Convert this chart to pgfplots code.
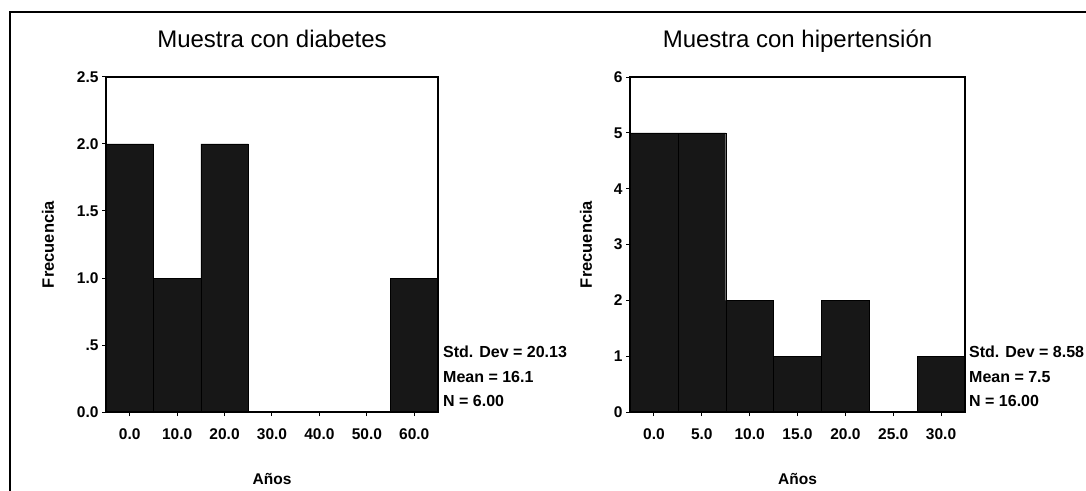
\documentclass[border=0pt]{standalone}
\usepackage{fontspec}
\setmainfont{Liberation Sans}
\usepackage{pgfplots}
\pgfplotsset{compat=1.18}
\begin{document}
\begin{tikzpicture}[x=1pt,y=1pt]
\useasboundingbox (0,0) rectangle (1086,490);
\clip (0,0) rectangle (1086,490);
\fill[white] (0,0) rectangle (1086,490);
\draw[line width=2pt] (10,-20) -- (10,478) -- (1100,478);
\pgfplotsset{
 histo/.style={
   scale only axis,
   axis on top,
   axis line style={line width=1.2pt},
   tick align=outside, tick pos=left, major tick length=4pt,
   tick style={line width=1pt, black},
   ticklabel style={font=\fontsize{15.5}{15.5}\selectfont\bfseries},
   xticklabel style={yshift=-9pt},
   ymin=0,
   title style={font=\fontsize{24}{24}\selectfont, at={(axis description cs:0.5,1.0687)}, anchor=base},
   xlabel style={font=\fontsize{15.5}{15.5}\selectfont\bfseries, at={(axis description cs:0.5,-0.2179)}, anchor=base},
   ylabel style={font=\fontsize{16.5}{16.5}\selectfont\bfseries, anchor=center},
 }
}
\begin{scope}[shift={(106pt,78pt)}]
\begin{axis}[histo, at={(0pt,0pt)}, anchor=south west, width=332pt, height=335pt,
  xmin=-5, xmax=65, ymax=2.5,
  xtick={0,10,20,30,40,50,60},
  xticklabels={0.0,10.0,20.0,30.0,40.0,50.0,60.0},
  ytick={0,0.5,1,1.5,2,2.5},
  yticklabels={0.0,.5,1.0,1.5,2.0,2.5},
  title={Muestra con diabetes},
  xlabel={Años}, ylabel={Frecuencia},
  ylabel style={at={(axis description cs:-0.1747,0.5)}}]
\addplot[ybar, bar width=10, fill=black!91, draw=black] coordinates {(0,2) (10,1) (20,2) (30,0) (40,0) (50,0) (60,1)};
\end{axis}
\end{scope}
\begin{scope}[shift={(630pt,78pt)}]
\begin{axis}[histo, at={(0pt,0pt)}, anchor=south west, width=335pt, height=335pt,
  xmin=-2.5, xmax=32.5, ymax=6,
  xtick={0,5,10,15,20,25,30},
  xticklabels={0.0,5.0,10.0,15.0,20.0,25.0,30.0},
  ytick={0,1,2,3,4,5,6},
  yticklabels={0,1,2,3,4,5,6},
  title={Muestra con hipertensión},
  xlabel={Años}, ylabel={Frecuencia},
  ylabel style={at={(axis description cs:-0.1313,0.5)}}]
\addplot[ybar, bar width=5, fill=black!91, draw=black] coordinates {(0,5) (5,5) (10,2) (15,1) (20,2) (25,0) (30,1)};
\end{axis}
\end{scope}
\begin{scope}[every node/.style={font=\fontsize{16}{16}\selectfont\bfseries, anchor=base west, inner sep=0pt}]
\node at (443,132) {Std. Dev = 20.13};
\node at (443,107) {Mean = 16.1};
\node at (443,84) {N = 6.00};
\node at (969,132) {Std. Dev = 8.58};
\node at (969,107) {Mean = 7.5};
\node at (969,84) {N = 16.00};
\end{scope}
\end{tikzpicture}
\end{document}
